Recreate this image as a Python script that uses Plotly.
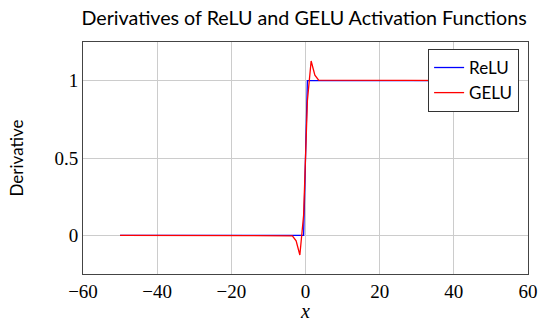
import plotly.graph_objects as go

# ReLU derivative samples (piecewise linear; flat parts shown by endpoints)
relu_x = [-50, -0.51, 0.51, 50]
relu_y = [0, 0, 1, 1]

# GELU derivative samples
gelu_x = [-50, -3.54, -2.53, -1.52, -0.51, 0.51, 1.52, 2.53, 3.54, 50]
gelu_y = [0, -0.003, -0.036, -0.127, 0.13, 0.87, 1.127, 1.036, 1.003, 1]

x_ticks = [-60, -40, -20, 0, 20, 40, 60]
x_tick_labels = ["\u221260", "\u221240", "\u221220", "0", "20", "40", "60"]
y_ticks = [0, 0.5, 1]
y_tick_labels = ["0", "0.5", "1"]

fig = go.Figure()
fig.add_trace(go.Scatter(x=relu_x, y=relu_y, mode="lines", name="ReLU",
                         line=dict(color="#0000ff", width=1.3)))
fig.add_trace(go.Scatter(x=gelu_x, y=gelu_y, mode="lines", name="GELU",
                         line=dict(color="#ff0000", width=1.3)))

serif = "Liberation Serif, DejaVu Serif, serif"
sans = "Lato, Noto Sans, sans-serif"

fig.update_layout(
    width=542, height=322,
    margin=dict(l=83, r=14, t=42, b=48),
    paper_bgcolor="white", plot_bgcolor="white",
    title=dict(text="Derivatives of ReLU and GELU Activation Functions",
               x=0.561, xanchor="center", y=0.945, yanchor="middle",
               font=dict(family=sans, size=19.7, color="black")),
    showlegend=True,
    legend=dict(x=0.98, y=0.97, xanchor="right", yanchor="top",
                bgcolor="white", bordercolor="#333333", borderwidth=1,
                font=dict(family=sans, size=17, color="black"),
                itemwidth=30, tracegroupgap=0),
    xaxis=dict(range=[-60, 60], tickvals=x_ticks, ticktext=x_tick_labels,
               showgrid=True, gridcolor="#cccccc", gridwidth=1, automargin=False,
               zeroline=False, showline=True, linecolor="#444444", linewidth=1,
               mirror=True, ticks="", tickfont=dict(family=serif, size=19, color="black"),
               title=dict(text="<i>x</i>", font=dict(family=serif, size=20, color="black"),
                          standoff=8)),
    yaxis=dict(range=[-0.25, 1.25], tickvals=y_ticks, ticktext=y_tick_labels,
               showgrid=True, gridcolor="#cccccc", gridwidth=1, automargin=False,
               zeroline=False, showline=True, linecolor="#444444", linewidth=1,
               mirror=True, ticks="", tickfont=dict(family=serif, size=19, color="black"),
               title=dict(text="Derivative", font=dict(family=sans, size=17, color="black"),
                          standoff=26)),
)

fig.write_html("out.html")
